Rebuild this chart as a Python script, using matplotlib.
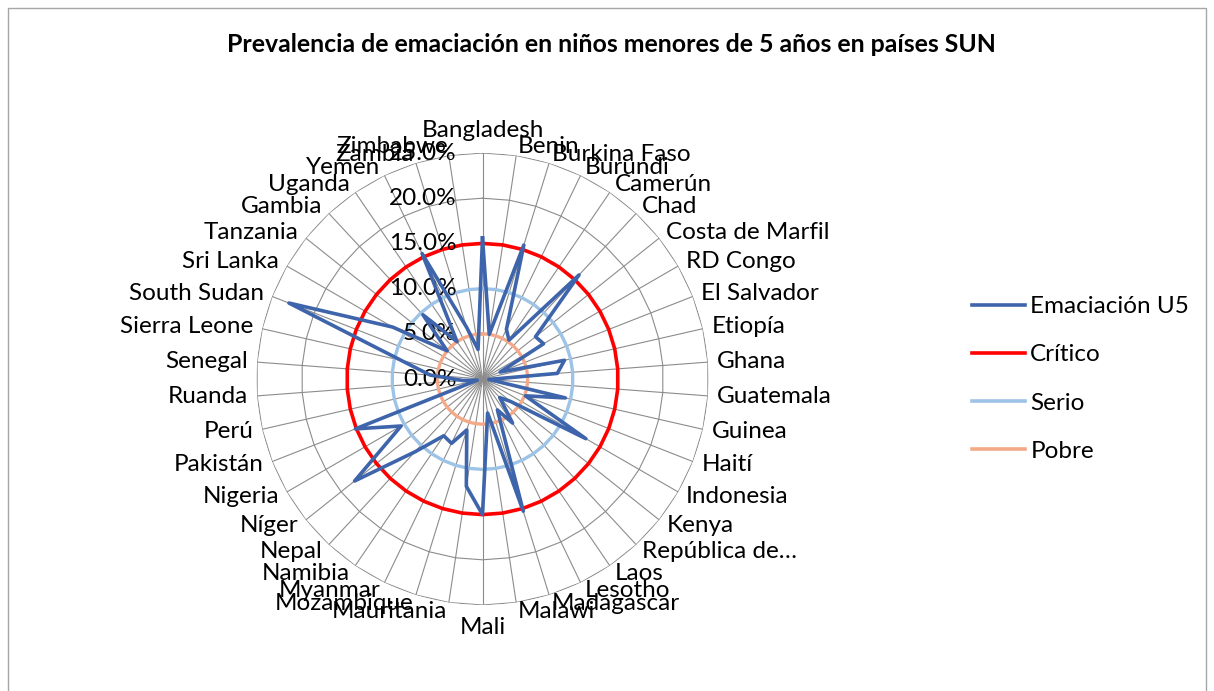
import numpy as np
import matplotlib
matplotlib.use("Agg")
import matplotlib.pyplot as plt
import matplotlib.transforms as mtransforms
from matplotlib.lines import Line2D
from matplotlib.patches import Rectangle

plt.rcParams['font.family'] = ['Lato', 'DejaVu Sans']

# datos: prevalencia de emaciación (%) en menores de 5 años
paises = ['Bangladesh', 'Benin', 'Burkina Faso', 'Burundi', 'Camerún', 'Chad',
          'Costa de Marfil', 'RD Congo', 'El Salvador', 'Etiopía', 'Ghana',
          'Guatemala', 'Guinea', 'Haití', 'Indonesia', 'Kenya', 'República de…',
          'Laos', 'Lesotho', 'Madagascar', 'Malawi', 'Mali', 'Mauritania',
          'Mozambique', 'Myanmar', 'Namibia', 'Nepal', 'Níger', 'Nigeria',
          'Pakistán', 'Perú', 'Ruanda', 'Senegal', 'Sierra Leone', 'South Sudan',
          'Sri Lanka', 'Tanzania', 'Gambia', 'Uganda', 'Yemen', 'Zambia', 'Zimbabwe']
emaciacion = [15.6, 5.0, 15.5, 6.1, 5.2, 15.7, 7.5, 7.8, 2.1, 9.3, 8.3,
              0.7, 9.4, 5.1, 13.2, 4.0, 2.8, 5.9, 3.8, 15.3, 3.8, 15.0, 12.0,
              5.9, 7.9, 7.6, 11.0, 18.1, 10.4, 15.1, 0.6, 2.2, 5.8, 9.2, 23.0,
              11.5, 5.0, 9.7, 5.0, 15.4, 6.0, 3.3]
umbral_critico = 15.0
umbral_serio = 10.0
umbral_pobre = 5.0
anillos = [0, 5, 10, 15, 20, 25]

n = len(paises)
theta = np.arange(n) * 2 * np.pi / n
theta_c = np.append(theta, theta[0])

def cerrar(v):
    return list(v) + [v[0]]

fig = plt.figure(figsize=(12.14, 6.91), dpi=100)
ax = fig.add_axes([(482.5 - 226) / 1214, (691 - 379 - 226) / 691, 452 / 1214, 452 / 691],
                  projection='polar')
ax.set_theta_offset(np.pi / 2)
ax.set_theta_direction(-1)
ax.set_ylim(0, 25)
ax.spines['polar'].set_visible(False)
ax.set_xticks(theta)
ax.set_xticklabels([])
ax.set_yticks(anillos)
ax.set_yticklabels([])
ax.yaxis.grid(False)
ax.xaxis.grid(True, color='#8c8c8c', linewidth=0.8)
ax.set_facecolor('none')

# anillos poligonales como en Excel
for r in anillos[1:]:
    ax.plot(theta_c, [r] * (n + 1), color='#8c8c8c', linewidth=0.8, zorder=1)

ax.plot(theta_c, cerrar([umbral_pobre] * n), color='#F4AA88', linewidth=2.4, zorder=2)
ax.plot(theta_c, cerrar([umbral_serio] * n), color='#9DC3E6', linewidth=2.4, zorder=2)
ax.plot(theta_c, cerrar([umbral_critico] * n), color='#FF0000', linewidth=2.6, zorder=3)
ax.plot(theta_c, cerrar(emaciacion), color='#3E64AB', linewidth=2.6, zorder=4)

# etiquetas de categoría
r_lab = 26.0
for th, p in zip(theta, paises):
    s = np.sin(th)
    if abs(s) < 1e-6:
        if np.cos(th) > 0:
            ax.text(th, r_lab, p, ha='center', va='bottom', fontsize=17.5,
                    transform=mtransforms.offset_copy(ax.transData, fig=fig, x=0, y=3, units='dots'))
        else:
            ax.text(th, r_lab, p, ha='center', va='top', fontsize=17.5,
                    transform=mtransforms.offset_copy(ax.transData, fig=fig, x=0, y=-3, units='dots'))
    else:
        ax.text(th, r_lab, p, ha='left' if s > 0 else 'right', va='center', fontsize=17.5)

# etiquetas del eje radial
for r in anillos:
    ax.text(0, r, f'{r:.1f}%', ha='right', va='center', fontsize=17.5,
            transform=mtransforms.offset_copy(ax.transData, fig=fig, x=-26, y=0, units='dots'))

fig.text(611 / 1214, 1 - 45 / 691,
         'Prevalencia de emaciación en niños menores de 5 años en países SUN',
         ha='center', va='center', fontsize=17.9, fontweight='bold')

handles = [Line2D([], [], color='#3E64AB', linewidth=2.6),
           Line2D([], [], color='#FF0000', linewidth=2.6),
           Line2D([], [], color='#9DC3E6', linewidth=2.6),
           Line2D([], [], color='#F4AA88', linewidth=2.6)]
fig.legend(handles, ['Emaciación U5', 'Crítico', 'Serio', 'Pobre'],
           loc='center left', bbox_to_anchor=(972 / 1214, 1 - 379 / 691),
           frameon=False, fontsize=17.5, handlelength=2.2, handletextpad=0.2,
           labelspacing=1.12, borderpad=0, borderaxespad=0)

fig.add_artist(Rectangle((8 / 1214, -0.1), (1206 - 8) / 1214, 1.1 - 8 / 691,
                         transform=fig.transFigure, fill=False,
                         edgecolor='#a6a6a6', linewidth=1.0))

fig.savefig('out.png', dpi=100)
